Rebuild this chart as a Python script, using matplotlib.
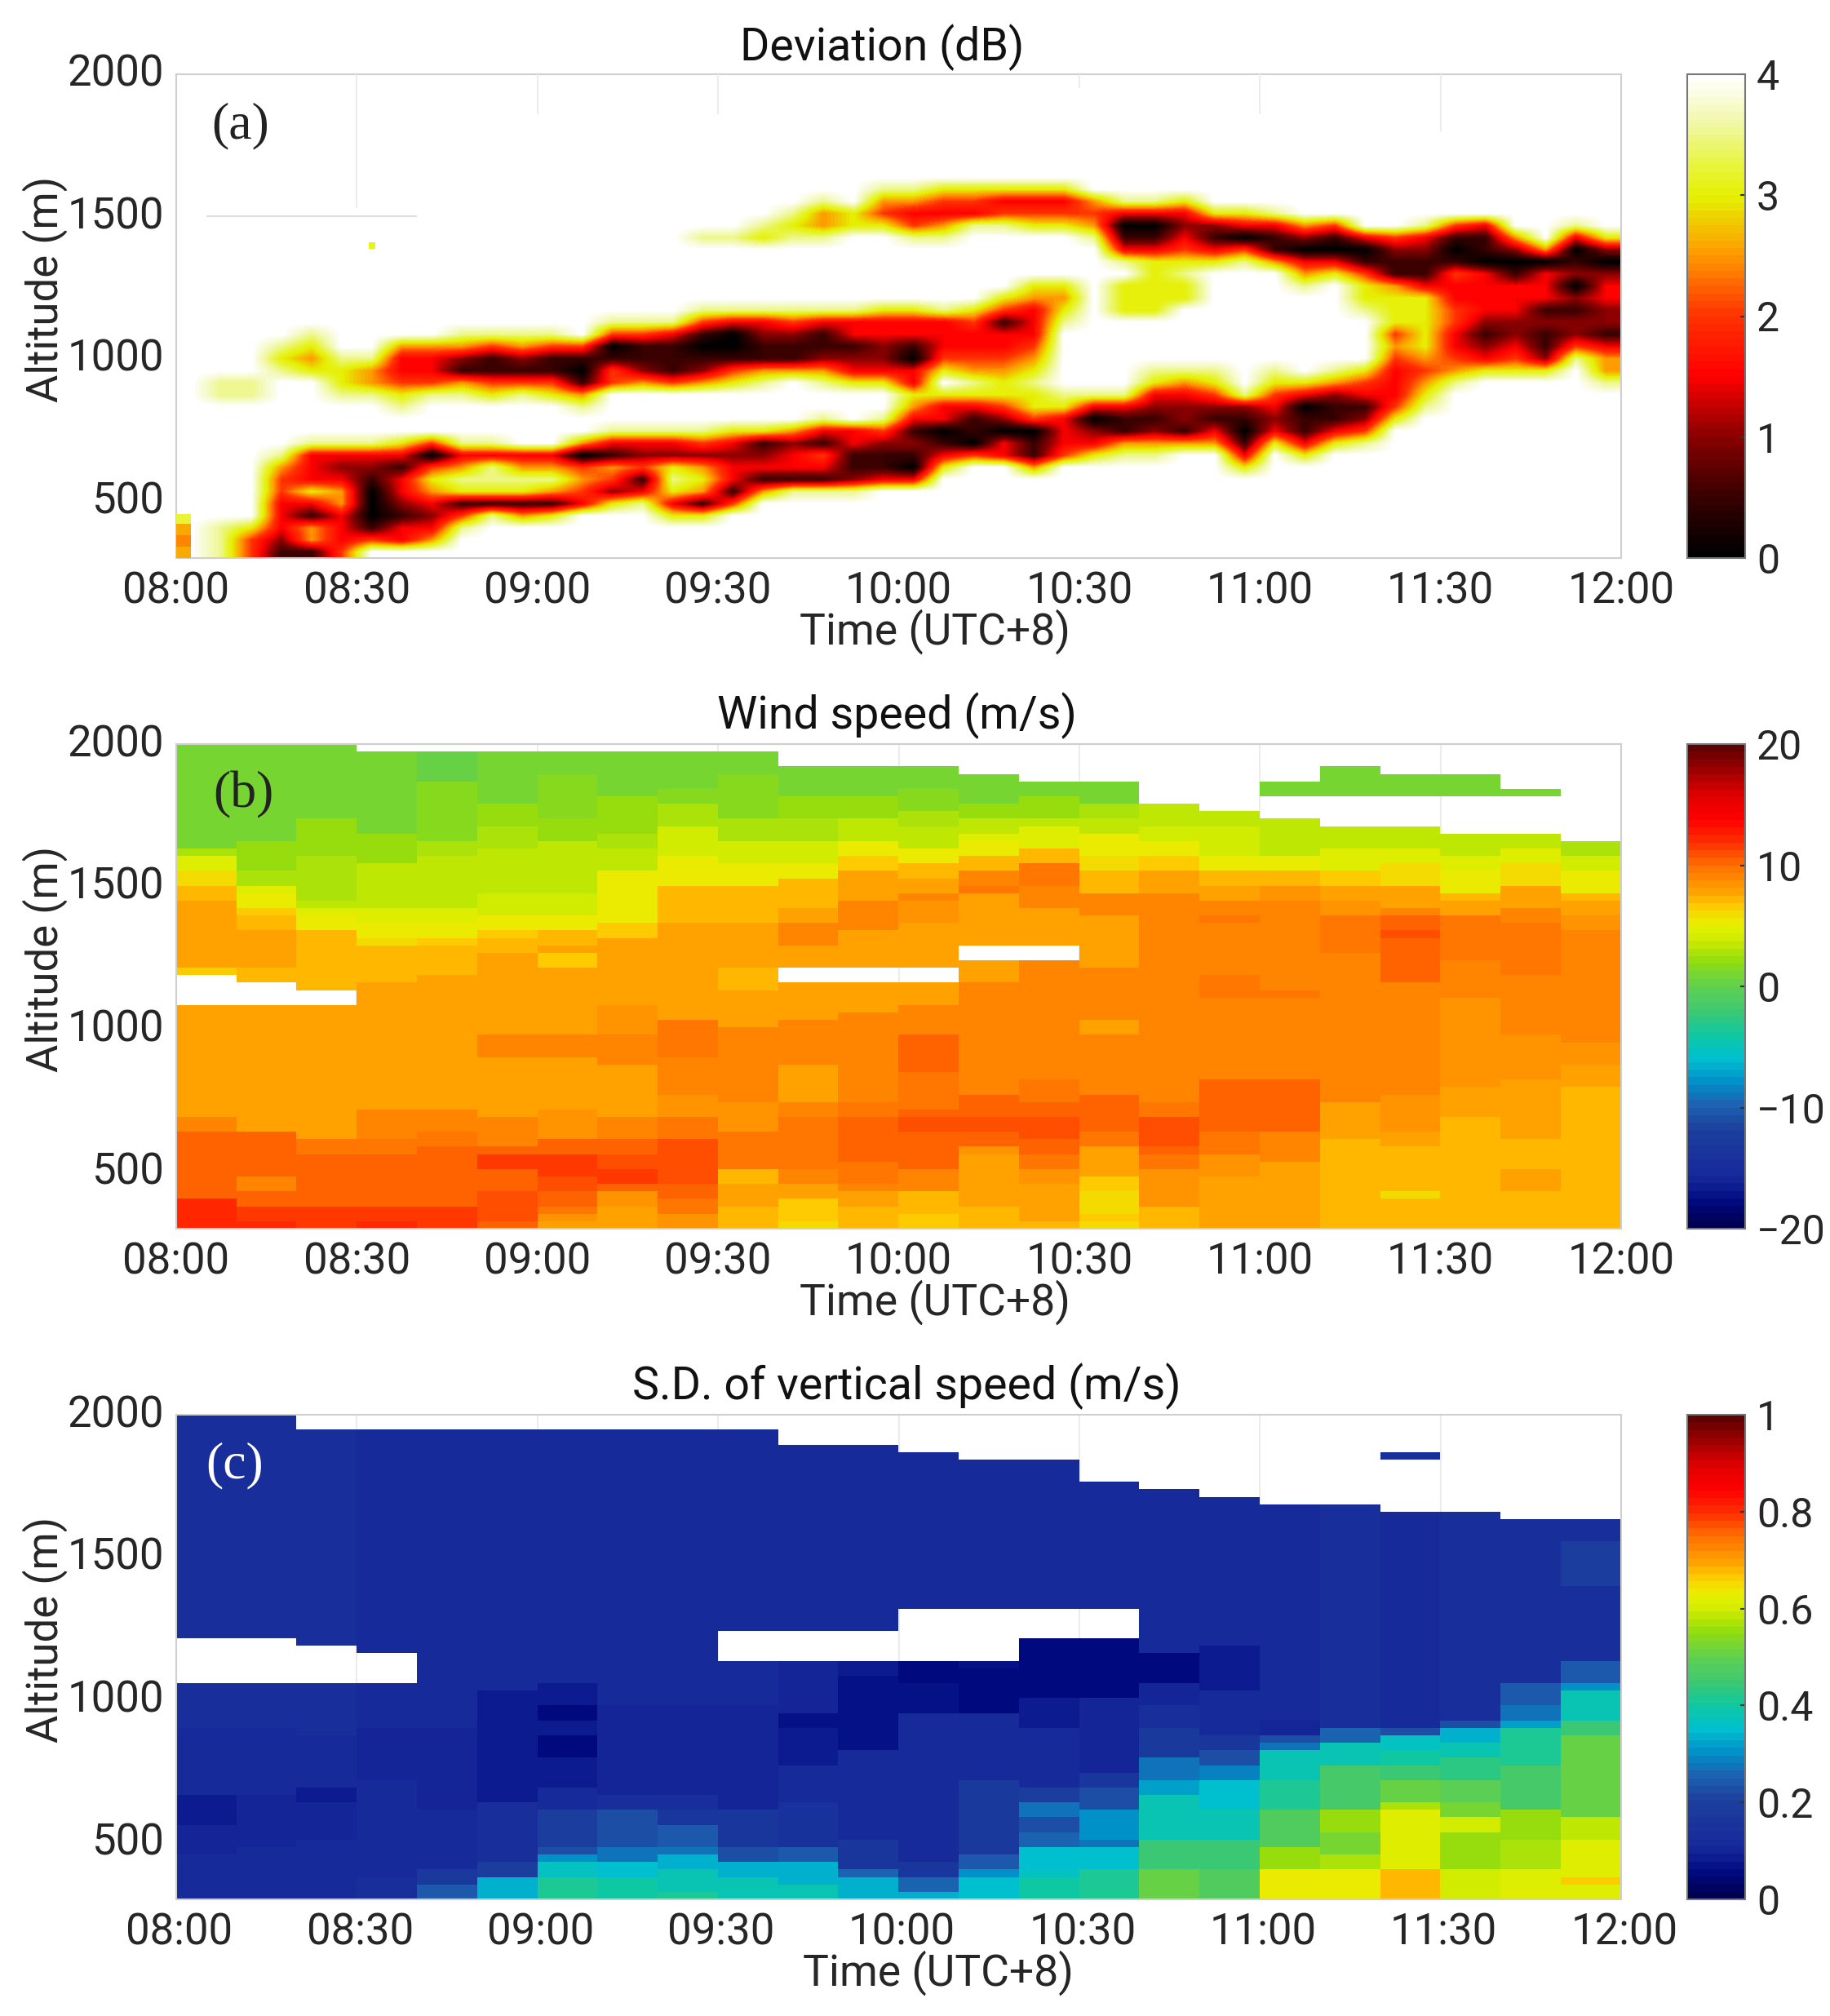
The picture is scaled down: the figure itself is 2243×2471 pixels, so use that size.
import numpy as np
import matplotlib
matplotlib.use("Agg")
import matplotlib.pyplot as plt
from matplotlib.colors import LinearSegmentedColormap
from matplotlib.transforms import ScaledTranslation

plt.rcParams['font.family'] = ['Roboto', 'DejaVu Sans']

W, H = 2243, 2471
FONT = 38
TITLE_FONT = 40
TXT = '#262626'

time_ticks = [0, 30, 60, 90, 120, 150, 180, 210, 240]
time_labels = ['08:00', '08:30', '09:00', '09:30', '10:00', '10:30', '11:00', '11:30', '12:00']
alt_ticks = [500, 1000, 1500, 2000]
alt_labels = ['500', '1000', '1500', '2000']

# (a) Deviation: 5-min columns, 42.5 m rows, digit = dB * 2, from row given upward; absent = 4 dB
deviation_columns = [
    [],
    [(0, "777"), (13, "77")],
    [(0, "446"), (13, "77")],
    [(0, "123334457"), (15, "767")],
    [(0, "1551363337"), (15, "6567")],
    [(0, "4333553237"), (13, "7667")],
    [(1, "410001237"), (13, "7557")],
    [(1, "331233136"), (12, "764335")],
    [(1, "532356404"), (13, "74335")],
    [(2, "74167537"), (13, "751257")],
    [(3, "7167737"), (13, "641147")],
    [(3, "516753"), (13, "741257")],
    [(3, "615753"), (13, "641147")],
    [(4, "345405"), (12, "751014")],
    [(4, "6245137"), (14, "441047")],
    [(4, "7314237"), (14, "521147")],
    [(3, "63676237"), (14, "411137")],
    [(3, "61565247"), (14, "5210147"), (26, "7")],
    [(4, "4133236"), (14, "6410037"), (26, "7")],
    [(5, "513216"), (14, "7511237"), (26, "67")],
    [(5, "713325"), (15, "511247"), (26, "767")],
    [(5, "7134137"), (14, "7521137"), (26, "7557")],
    [(5, "721133"), (14, "6321337"), (27, "66")],
    [(6, "311247"), (14, "6322336"), (27, "6457")],
    [(6, "301213563301336"), (26, "74357")],
    [(7, "63103368643337"), (26, "75346")],
    [(8, "4011367543346"), (27, "7346")],
    [(8, "33024665433146"), (27, "7436")],
    [(7, "5110466765433356"), (27, "6436")],
    [(8, "433367"), (19, "7656"), (27, "6436")],
    [(8, "632037"), (26, "7545")],
    [(8, "751137"), (20, "666"), (24, "731037")],
    [(8, "75212367"), (20, "6666631037")],
    [(9, "5122357"), (21, "667643236")],
    [(9, "5312467"), (24, "63126")],
    [(7, "6310127"), (24, "74036")],
    [(9, "6323467"), (24, "51137")],
    [(8, "6311036"), (22, "753025")],
    [(9, "6311257"), (23, "63014")],
    [(9, "7421346"), (20, "7664103")],
    [(11, "6433345466651124")],
    [(12, "7654566666311237")],
    [(14, "75433443341014")],
    [(15, "6321233330113")],
    [(15, "643223331025")],
    [(15, "62112133305")],
    [(16, "742212021037")],
    [(14, "7553122332026")],
]
stray_time = [32.5]
stray_alt = [1397]
stray_dev = [3.1]
edge_time = [0, 2.5]
edge_alt = [300, 340, 380, 420, 455]
edge_dev = [2.6, 2.4, 2.6, 3.2]

N = None
# (b) Wind speed: 10-min columns, runs of (rows, m/s) from 300 m upward
wind_columns = [
    [(4,12),(5,10.4),(4,10),(2,9),(13,8),(2,7.6),(4,N),(1,6.8),(9,7.6),(2,7.2),(2,5.8),(2,4.8),(1,3),(6,1),(8,.8)],
    [(1,12),(2,11.5),(2,10.2),(2,9.2),(3,10.2),(3,10),(13,8),(4,7.6),(3,N),(2,7.4),(5,7.8),(2,7.4),(1,6.6),(2,5.4),(1,4.8),(2,3),(4,2),(13,.8)],
    [(1,11.8),(2,11.5),(7,10.2),(2,9.6),(13,8),(5,7.6),(2,N),(8,6.9),(2,5.4),(1,4.5),(1,3.6),(2,3),(4,2.6),(5,2),(10,.8)],
    [(1,12),(2,11.5),(5,10.4),(2,10),(2,9.8),(4,9),(12,8),(5,7.6),(5,6.9),(1,6.2),(2,5.4),(2,4.4),(6,3.4),(4,2.4),(11,.8),(1,N)],
    [(1,11.8),(2,11.5),(8,10.4),(2,9.8),(3,9),(14,8),(4,7.6),(4,6.9),(1,6.4),(2,5.4),(2,4.4),(7,3.4),(2,2.6),(8,1.6),(4,.6),(1,N)],
    [(1,10.4),(4,11),(3,10.6),(2,11.4),(1,10),(4,9),(8,8),(3,9),(6,8),(5,7.6),(2,7.2),(1,6.4),(2,5.2),(3,4.2),(6,3.3),(3,2.6),(3,2),(7,.8),(1,N)],
    [(1,7.6),(1,8.4),(1,9.6),(2,10.4),(2,10.8),(1,11.4),(2,11.4),(2,10),(4,8.6),(7,8),(3,9),(6,8),(3,7.6),(2,6.6),(1,7.6),(2,7.2),(2,5.2),(3,4.2),(7,3.3),(3,2.4),(6,1.6),(3,.8),(1,N)],
    [(1,7.8),(2,8),(2,8.4),(1,10.6),(2,11.6),(2,11),(2,10),(3,9),(7,8),(4,9),(4,8.2),(9,7.6),(2,6.6),(2,5.6),(5,5.2),(3,3.6),(2,3),(5,2),(6,.8),(1,N)],
    [(2,8.4),(2,9.6),(2,10.4),(6,11.2),(3,9.4),(3,8.2),(5,8.8),(5,9.8),(13,8),(2,7.2),(3,6.9),(4,5.2),(4,4),(3,3),(2,1.6),(5,.8),(1,N)],
    [(3,6.9),(3,7.5),(2,7),(3,9.4),(2,9.6),(4,8.6),(10,9),(5,8),(3,7.4),(6,7.8),(2,7.4),(3,6.9),(3,5.4),(3,4),(3,3),(6,1.8),(3,.8),(1,N)],
    [(1,6.2),(3,6.6),(2,7.6),(2,9),(3,9.8),(4,9.6),(2,9),(5,8),(6,9),(5,8),(2,N),(3,7.6),(3,9),(2,7.6),(4,6.9),(2,5.4),(3,4),(3,3),(3,2),(4,1),(3,N)],
    [(1,7.2),(2,7.4),(2,8),(1,9),(3,9.6),(2,10.6),(4,10.6),(2,9.4),(12,9),(4,8),(2,N),(5,7.8),(4,9),(4,7.6),(2,6.4),(2,5),(3,3.4),(3,2.4),(4,1.2),(3,N)],
    [(2,6.8),(3,7.4),(3,9),(2,10),(3,10.4),(2,11),(1,10.4),(5,9.4),(5,10),(4,9),(3,8),(2,N),(6,7.8),(3,8.4),(1,9),(2,7.8),(2,6.9),(2,5.4),(3,3.5),(2,2.5),(3,1.6),(3,.8),(3,N)],
    [(3,6.9),(4,7.5),(3,7.8),(1,8.6),(2,10),(2,11),(3,10),(15,9),(3,8),(2,N),(1,7.6),(6,8),(1,9.4),(2,9),(2,6.9),(2,5.4),(1,4.8),(2,3.6),(2,2.2),(4,1.2),(4,N)],
    [(1,7),(5,7.8),(2,8.6),(2,9.4),(2,10),(3,11),(2,10.2),(3,9.6),(13,9),(3,8.8),(2,N),(5,8),(3,9.2),(3,9.6),(2,6.9),(3,4.8),(1,3.6),(3,2.4),(2,1.2),(5,N)],
    [(1,6),(1,6.8),(3,5.8),(2,6.4),(4,7.6),(2,9.4),(3,10.4),(2,10),(8,9),(2,8),(7,9),(7,8),(3,9.2),(3,7),(2,6),(3,5),(2,3.6),(2,2.8),(3,1.2),(5,N)],
    [(3,7.4),(5,8.6),(2,9.4),(1,10.4),(4,10.8),(2,9.6),(28,9),(3,7.8),(2,6.4),(2,5.4),(2,3.8),(3,3.2),(8,N)],
    [(7,7.6),(3,8.6),(3,9.4),(7,10),(11,9),(3,9.8),(7,9),(1,9.8),(2,8.8),(2,8),(2,7),(2,5.4),(4,4),(2,3.2),(9,N)],
    [(9,7.6),(4,9),(7,10),(11,9),(1,9.8),(12,9),(2,8.4),(2,7.4),(2,5.6),(5,3.4),(3,N),(2,.8),(5,N)],
    [(12,6.9),(3,7.6),(2,8),(20,9),(5,9.8),(2,8.6),(2,7.8),(2,6.4),(3,4.8),(3,3.4),(4,N),(4,.8),(3,N)],
    [(4,6.9),(1,5.8),(6,6.9),(2,7.8),(5,8.2),(15,9),(6,10),(1,11),(2,10),(1,8.8),(3,7.8),(3,5.8),(2,4.6),(3,3.4),(4,N),(3,.8),(4,N)],
    [(11,6.9),(4,7),(4,7.6),(12,8.6),(5,9),(3,9.8),(3,9.4),(2,7.8),(1,7),(3,5.4),(2,4.4),(3,3.2),(5,N),(3,.8),(4,N)],
    [(5,6.9),(3,8),(4,6.9),(8,7.6),(6,8.2),(8,9),(7,9.8),(2,9),(3,8),(3,5.8),(2,4.4),(2,3.2),(5,N),(1,.8),(6,N)],
    [(19,6.9),(3,7.6),(3,8.2),(15,9),(2,8.4),(2,8),(1,7),(3,5.4),(2,4),(2,3),(13,N)],
]

# (c) S.D. of vertical speed: 10-min columns, runs of (rows, m/s) from 300 m upward
sd_columns = [
    [(6,.12),(4,.1),(4,.08),(9,.11),(6,.13),(6,N),(30,.13)],
    [(7,.12),(7,.1),(9,.11),(6,.13),(6,N),(30,.13)],
    [(8,.12),(5,.1),(2,.08),(7,.11),(7,.13),(5,N),(29,.13),(2,N)],
    [(3,.14),(13,.11),(7,.1),(6,.12),(4,N),(30,.12),(2,N)],
    [(2,.24),(2,.18),(8,.12),(11,.1),(40,.12),(2,N)],
    [(3,.33),(2,.2),(8,.14),(15,.09),(35,.11),(2,N)],
    [(3,.41),(2,.36),(1,.3),(1,.22),(5,.19),(3,.11),(4,.08),(3,.06),(2,.09),(2,.06),(3,.09),(34,.12),(2,N)],
    [(3,.4),(2,.35),(2,.28),(5,.22),(2,.14),(12,.1),(37,.11),(2,N)],
    [(1,.42),(3,.39),(2,.34),(1,.28),(3,.24),(2,.17),(2,.13),(12,.1),(37,.11),(2,N)],
    [(3,.38),(2,.33),(2,.22),(5,.16),(14,.1),(6,.11),(4,N),(27,.12),(2,N)],
    [(2,.38),(3,.34),(2,.24),(6,.15),(5,.11),(5,.09),(2,.07),(7,.1),(4,N),(25,.12),(4,N)],
    [(3,.33),(1,.26),(4,.16),(12,.11),(10,.07),(2,.09),(4,N),(25,.12),(4,N)],
    [(1,.33),(2,.25),(2,.17),(20,.11),(4,.07),(3,.05),(7,N),(21,.12),(5,N)],
    [(3,.35),(1,.3),(2,.24),(10,.18),(9,.11),(6,.05),(1,.07),(7,N),(20,.12),(6,N)],
    [(3,.4),(1,.37),(3,.35),(2,.25),(2,.22),(2,.28),(2,.19),(8,.12),(4,.08),(8,.06),(4,N),(20,.12),(6,N)],
    [(4,.41),(3,.35),(1,.27),(4,.3),(3,.22),(2,.16),(10,.1),(8,.05),(4,N),(17,.12),(9,N)],
    [(4,.5),(4,.44),(6,.38),(2,.32),(3,.28),(4,.18),(3,.13),(3,.1),(4,.06),(22,.12),(10,N)],
    [(4,.48),(4,.44),(4,.39),(4,.35),(2,.29),(2,.23),(2,.16),(6,.11),(6,.08),(20,.12),(11,N)],
    [(4,.63),(3,.55),(5,.48),(4,.42),(4,.38),(1,.27),(1,.22),(2,.1),(9,.11),(20,.12),(12,N)],
    [(4,.63),(2,.57),(3,.53),(3,.55),(6,.46),(3,.39),(2,.26),(30,.13),(12,N)],
    [(4,.68),(8,.62),(1,.57),(3,.5),(2,.44),(2,.4),(2,.36),(1,.22),(29,.11),(7,N),(1,.13),(5,N)],
    [(4,.6),(5,.56),(2,.6),(2,.52),(3,.49),(3,.43),(2,.39),(2,.34),(1,.22),(28,.13),(13,N)],
    [(4,.62),(4,.57),(4,.55),(6,.46),(5,.42),(1,.32),(2,.27),(3,.24),(22,.13),(14,N)],
    [(2,.62),(1,.67),(5,.62),(3,.58),(11,.5),(2,.44),(4,.38),(1,.31),(3,.24),(10,.14),(6,.19),(3,.14),(14,N)],
]

# faint remnants of grid lines visible in panel (a): time, lowest altitude reached
a_grid_time = [30, 60, 90, 150, 180, 210]
a_grid_low = [1530, 1860, 1860, 1950, 1860, 1800]

dev_cmap = LinearSegmentedColormap.from_list('dev', [
    (0, '#000000'), (.125, '#3a0000'), (.25, '#8c0000'), (.375, '#ff0000'), (.5, '#ff3200'),
    (.625, '#ff9600'), (.75, '#e6f000'), (.82, '#e8f540'), (.9, '#f0f8a0'), (1, '#ffffff')], N=64)
jet_cmap = LinearSegmentedColormap.from_list('jetlike', [
    (0, '#000050'), (.05, '#000a80'), (.1, '#16289a'), (.2, '#1c409e'), (.25, '#1c60b0'), (.3, '#0090c8'),
    (.35, '#00c0d0'), (.4, '#10c8a0'), (.45, '#40c870'), (.5, '#60d050'), (.55, '#90dc10'), (.6, '#d0ec00'),
    (.63, '#e8f000'), (.67, '#ffc800'), (.7, '#ffa000'), (.75, '#ff7400'), (.8, '#ff3000'), (.85, '#ff0000'),
    (.9, '#e00000'), (.95, '#a00000'), (1, '#600000')], N=64)


def dev_grid(cols, nrows=40):
    g = np.full((nrows, len(cols)), 4.0)
    for k, col in enumerate(cols):
        for start, digits in col:
            for j, d in enumerate(digits):
                g[start + j, k] = int(d) * 0.5
    return g


def run_grid(cols, nrows=65):
    g = np.full((nrows, len(cols)), np.nan)
    for k, col in enumerate(cols):
        i = 0
        for n, v in col:
            if v is not None:
                g[i:min(i + n, nrows), k] = v
            i += n
    return np.ma.masked_invalid(g)


def axes_px(l, t, r, b):
    return fig.add_axes([l / W, 1 - b / H, (r - l) / W, (b - t) / H])


fig = plt.figure(figsize=(W / 100, H / 100), dpi=100, facecolor='white')

panels = [
    dict(top=91, bot=684, grid=dev_grid(deviation_columns), cmap=dev_cmap, vmin=0, vmax=4, interp='bilinear',
         title='Deviation (dB)', tx=1081, ty=58, tag='(a)', tagc='#222222', tagx=295, tagy=154, shift=0,
         cticks=[0, 1, 2, 3, 4], clabels=['0', '1', '2', '3', '4']),
    dict(top=912, bot=1506, grid=run_grid(wind_columns), cmap=jet_cmap, vmin=-20, vmax=20, interp='nearest',
         title='Wind speed (m/s)', tx=1099, ty=877, tag='(b)', tagc='#222222', tagx=298, tagy=974, shift=0,
         cticks=[-20, -10, 0, 10, 20], clabels=['\u221220', '\u221210', '0', '10', '20']),
    dict(top=1734, bot=2328, grid=run_grid(sd_columns), cmap=jet_cmap, vmin=0, vmax=1, interp='nearest',
         title='S.D. of vertical speed (m/s)', tx=1111, ty=1699, tag='(c)', tagc='#ffffff', tagx=288, tagy=1796, shift=4,
         cticks=[0, .2, .4, .6, .8, 1], clabels=['0', '0.2', '0.4', '0.6', '0.8', '1']),
]

for p in panels:
    ax = axes_px(216, p['top'], 1987, p['bot'])
    im = ax.imshow(p['grid'], origin='lower', aspect='auto', extent=[0, 240, 300, 2000], cmap=p['cmap'],
                   vmin=p['vmin'], vmax=p['vmax'], interpolation=p['interp'], zorder=2)
    ax.set_xlim(0, 240)
    ax.set_ylim(300, 2000)
    ax.set_xticks(time_ticks)
    ax.set_xticklabels(time_labels, fontsize=FONT, color=TXT)
    ax.set_yticks(alt_ticks)
    ax.set_yticklabels(alt_labels, fontsize=FONT, color=TXT)
    ax.tick_params(length=0, pad=11)
    up = ScaledTranslation(p['shift'] / 100, 0, fig.dpi_scale_trans)
    for lab in ax.get_xticklabels():
        lab.set_transform(lab.get_transform() + up)
    lift = ScaledTranslation(0, 5 / 100, fig.dpi_scale_trans)
    for lab in ax.get_yticklabels():
        lab.set_transform(lab.get_transform() + lift)
    for s in ax.spines.values():
        s.set_color('#cfcfcf')
        s.set_linewidth(1.5)
    if p['interp'] == 'nearest':
        ax.grid(True, color='#ececec', lw=1.5)
        ax.set_axisbelow(True)
    else:
        ax.vlines(a_grid_time, a_grid_low, 2000, color='#ececec', lw=1.5, zorder=3)
        ax.hlines(1500, 5, 40, color='#dddddd', lw=1.5, zorder=3)
        ax.scatter(stray_time, stray_alt, c=stray_dev, cmap=dev_cmap, vmin=0, vmax=4, s=30, marker='s', lw=0, zorder=3)
        ax.pcolormesh(edge_time, edge_alt, np.array(edge_dev).reshape(-1, 1), cmap=dev_cmap, vmin=0, vmax=4, zorder=3)
    ax.set_ylabel('Altitude (m)', fontsize=FONT, color=TXT)
    ax.yaxis.set_label_coords(-0.075, 0.556)
    fig.text(p['tx'] / W, 1 - p['ty'] / H, p['title'], fontsize=TITLE_FONT, color='#111111', ha='center', va='center')
    fig.text((1146 + p['shift']) / W, 1 - (p['bot'] + 90) / H, 'Time (UTC+8)', fontsize=FONT + 0.5, color=TXT,
             ha='center', va='center')
    fig.text(p['tagx'] / W, 1 - p['tagy'] / H, p['tag'], fontsize=46, color=p['tagc'], ha='center', va='center',
             family='Liberation Serif', zorder=10)

    cax = axes_px(2068, p['top'], 2139, p['bot'])
    cb = fig.colorbar(im, cax=cax)
    cb.set_ticks(p['cticks'])
    cb.set_ticklabels(p['clabels'])
    cax.tick_params(direction='in', length=4, width=1.5, color='#333333', labelsize=FONT - 2, labelcolor=TXT, pad=10)
    cb.outline.set_edgecolor('#777777')
    cb.outline.set_linewidth(1.5)

fig.savefig('out.png', dpi=100, facecolor='white')
